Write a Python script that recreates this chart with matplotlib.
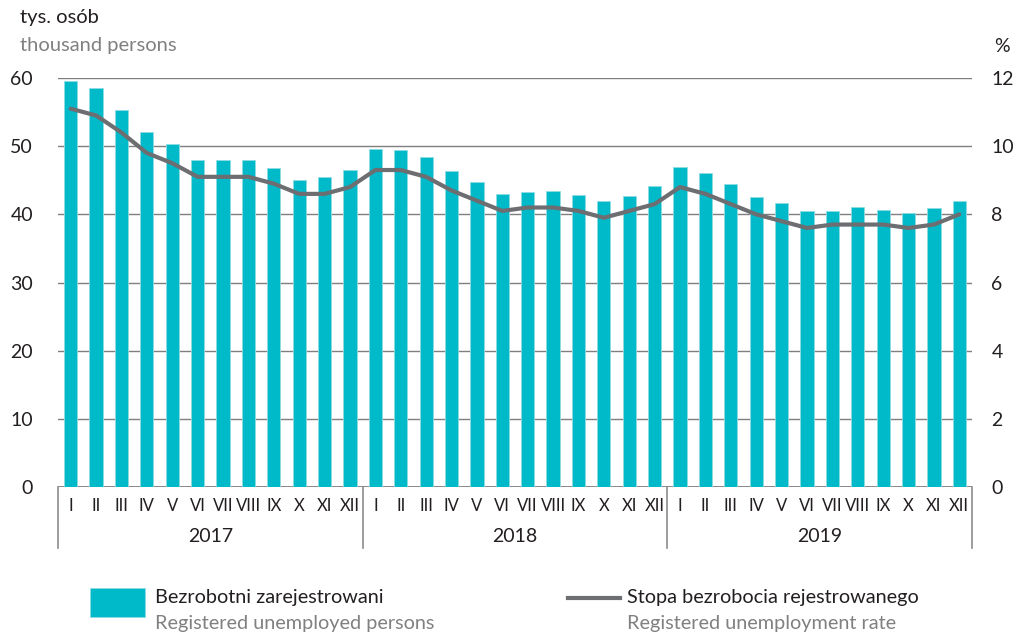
import matplotlib
matplotlib.use("Agg")
import matplotlib.pyplot as plt
import matplotlib.transforms as mtransforms
from matplotlib.patches import Rectangle
from matplotlib.lines import Line2D

# ── dane ────────────────────────────────────────────────────────────────
years = ["2017", "2018", "2019"]
months = ["I", "II", "III", "IV", "V", "VI", "VII", "VIII", "IX", "X", "XI", "XII"]

unemployed = [
    59.5, 58.6, 55.3, 52.1, 50.3, 47.9, 47.9, 47.9, 46.8, 45.1, 45.5, 46.5,   # 2017
    49.6, 49.5, 48.4, 46.3, 44.7, 43.0, 43.3, 43.4, 42.8, 41.9, 42.7, 44.1,   # 2018
    46.9, 46.1, 44.5, 42.5, 41.6, 40.5, 40.5, 41.1, 40.7, 40.2, 40.9, 42.0,   # 2019
]
rate = [
    11.1, 10.9, 10.4, 9.8, 9.5, 9.1, 9.1, 9.1, 8.9, 8.6, 8.6, 8.8,
    9.3, 9.3, 9.1, 8.7, 8.4, 8.1, 8.2, 8.2, 8.1, 7.9, 8.1, 8.3,
    8.8, 8.6, 8.3, 8.0, 7.8, 7.6, 7.7, 7.7, 7.7, 7.6, 7.7, 8.0,
]
left_ticks = [0, 10, 20, 30, 40, 50, 60]
right_ticks = [0, 2, 4, 6, 8, 10, 12]

# ── styl ────────────────────────────────────────────────────────────────
TEAL = "#00B9C9"
TEAL_EDGE = "#8FDCE4"
LINE_C = "#6D6E71"
GRID_C = "#7F7F7F"
TEXT_PRI = "#231F20"
TEXT_SEC = "#808080"

plt.rcParams["font.family"] = ["Lato", "DejaVu Sans"]

fig = plt.figure(figsize=(10.18, 6.34), dpi=100)
ax = fig.add_axes([58 / 1018, 1 - 487 / 634, (972 - 58) / 1018, (487 - 78) / 634])
ax2 = ax.twinx()

x = list(range(len(unemployed)))
ax.bar(x, unemployed, width=0.52, color=TEAL, edgecolor=TEAL_EDGE, linewidth=0.6, zorder=3)
ax2.plot(x, rate, color=LINE_C, linewidth=3, solid_capstyle="round", zorder=4)

ax.set_xlim(-0.5, len(x) - 0.5)
ax.set_ylim(0, 60)
ax2.set_ylim(0, 12)

for v in left_ticks:
    ax.axhline(v, color=GRID_C, linewidth=1.0 if v else 1.3, zorder=1)

for a in (ax, ax2):
    for s in a.spines.values():
        s.set_visible(False)

ax.set_yticks(left_ticks)
ax.set_yticklabels([str(t) for t in left_ticks])
ax2.set_yticks(right_ticks)
ax2.set_yticklabels([str(t) for t in right_ticks])
ax.tick_params(axis="y", length=0, pad=18, labelsize=14, labelcolor=TEXT_PRI)
ax2.tick_params(axis="y", length=0, pad=14, labelsize=14, labelcolor=TEXT_PRI)

ax.set_xticks(x)
ax.set_xticklabels(months * len(years))
ax.tick_params(axis="x", length=0, pad=8, labelsize=12, labelcolor=TEXT_PRI)

# separatory lat i podpisy lat
trans = mtransforms.blended_transform_factory(ax.transData, ax.transAxes)
for i in range(len(years) + 1):
    xb = i * 12 - 0.5
    ax.add_line(Line2D([xb, xb], [0, -61 / 409], transform=trans, color="#8C8C8C",
                       linewidth=1.2, clip_on=False))
for i, yr in enumerate(years):
    ax.text(i * 12 + 5.5, -50 / 409, yr, transform=trans, ha="center", va="center",
            fontsize=14, color=TEXT_PRI)

# opisy osi
fig.text(20 / 1018, 1 - 18 / 634, "tys. osób", fontsize=14.5, color=TEXT_PRI, va="center")
fig.text(20 / 1018, 1 - 46 / 634, "thousand persons", fontsize=14.5, color=TEXT_SEC, va="center")
fig.text(1002 / 1018, 1 - 47 / 634, "%", fontsize=14, color=TEXT_PRI, va="center", ha="center")

# legenda
fig.patches.append(Rectangle((90 / 1018, 1 - 617 / 634), 55 / 1018, 29 / 634,
                             transform=fig.transFigure, facecolor=TEAL, edgecolor=TEAL_EDGE,
                             linewidth=0.6))
fig.text(155 / 1018, 1 - 598 / 634, "Bezrobotni zarejestrowani", fontsize=14.3,
         color=TEXT_PRI, va="center")
fig.text(155 / 1018, 1 - 623 / 634, "Registered unemployed persons", fontsize=14.3,
         color=TEXT_SEC, va="center")
fig.lines.append(Line2D([568 / 1018, 620 / 1018], [1 - 598 / 634, 1 - 598 / 634],
                        transform=fig.transFigure, color=LINE_C, linewidth=3))
fig.text(627 / 1018, 1 - 598 / 634, "Stopa bezrobocia rejestrowanego", fontsize=14.3,
         color=TEXT_PRI, va="center")
fig.text(627 / 1018, 1 - 623 / 634, "Registered unemployment rate", fontsize=14.3,
         color=TEXT_SEC, va="center")

fig.savefig("out.png", dpi=100)
